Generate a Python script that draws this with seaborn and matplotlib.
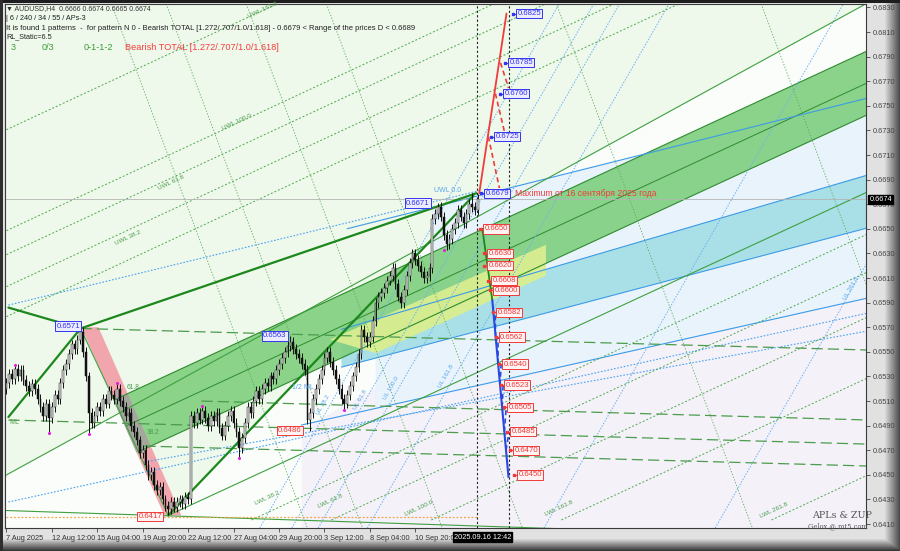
import matplotlib
matplotlib.use("Agg")
import matplotlib.pyplot as plt
import seaborn as sns
import numpy as np
import pandas as pd
from matplotlib.patches import Polygon

# ---------------- data (x = H4 bar index, y = price) ----------------
closes = [
    0.6525, 0.6532, 0.6528, 0.6536, 0.6530, 0.6535, 0.6527, 0.6522, 0.6518, 0.6524,
    0.6520, 0.6512, 0.6505, 0.6498, 0.6508, 0.6496, 0.6505, 0.6515, 0.6512, 0.6525,
    0.6535, 0.6540, 0.6548, 0.6556, 0.6552, 0.6560, 0.6566, 0.6550, 0.6530, 0.6500,
    0.6492, 0.6498, 0.6505, 0.6502, 0.6512, 0.6508, 0.6518, 0.6515, 0.6512, 0.6520,
    0.6510, 0.6505, 0.6498, 0.6500, 0.6490, 0.6485, 0.6478, 0.6468, 0.6470, 0.6458,
    0.6450, 0.6452, 0.6442, 0.6438, 0.6440, 0.6430, 0.6425, 0.6422, 0.6428, 0.6424,
    0.6428, 0.6430, 0.6426, 0.6432, 0.6430, 0.6498, 0.6492, 0.6500, 0.6495, 0.6502,
    0.6496, 0.6490, 0.6498, 0.6494, 0.6500, 0.6488, 0.6482, 0.6490, 0.6498, 0.6502,
    0.6492, 0.6485, 0.6472, 0.6480, 0.6492, 0.6505, 0.6500, 0.6510, 0.6518, 0.6512,
    0.6520, 0.6525, 0.6522, 0.6530, 0.6528, 0.6535, 0.6540, 0.6545, 0.6550, 0.6555,
    0.6558, 0.6552, 0.6548, 0.6545, 0.6540, 0.6535, 0.6495, 0.6500, 0.6512, 0.6520,
    0.6528, 0.6535, 0.6545, 0.6550, 0.6542, 0.6535, 0.6528, 0.6520, 0.6512, 0.6508,
    0.6515, 0.6522, 0.6530, 0.6538, 0.6548, 0.6568, 0.6562, 0.6558, 0.6562, 0.6575,
    0.6590, 0.6595, 0.6598, 0.6602, 0.6608, 0.6612, 0.6618, 0.6605, 0.6595, 0.6590,
    0.6600, 0.6612, 0.6622, 0.6630, 0.6625, 0.6620, 0.6615, 0.6610, 0.6612, 0.6618,
    0.6658, 0.6662, 0.6668, 0.6660, 0.6645, 0.6638, 0.6642, 0.6650, 0.6655, 0.6665,
    0.6660, 0.6655, 0.6662, 0.6670, 0.6668, 0.6665, 0.6674,
]
first_open = 0.6520
wick = 0.0004
extreme_highs = {3: 0.6539, 26: 0.6571, 39: 0.6525, 69: 0.6506, 100: 0.6563, 152: 0.6671, 164: 0.6679}
extreme_lows = {15: 0.6484, 29: 0.6483, 57: 0.6417, 82: 0.6464, 107: 0.6486, 119: 0.6503, 155: 0.6633}
pivot_dots = [(3, 0.6539), (15, 0.6484), (29, 0.6483), (39, 0.6525), (69, 0.6506),
              (82, 0.6464), (119, 0.6503), (154, 0.6633)]

date_ticks = [0, 16, 32, 48, 64, 80, 96, 112, 128, 144]
date_labels = ["7 Aug 2025", "12 Aug 12:00", "15 Aug 04:00", "19 Aug 20:00", "22 Aug 12:00",
               "27 Aug 04:00", "29 Aug 20:00", "3 Sep 12:00", "8 Sep 04:00", "10 Sep 20:00"]
price_ticks = np.round(np.arange(0.6410, 0.6831, 0.0020), 4)
current_price = 0.6674
now_bar = 166.2

# structure lines (start, end) in (bar, price)
thick_green = [((0.7, 0.6586), (26.1, 0.6569)), ((0.7, 0.6497), (26.1, 0.6569)),
               ((26.1, 0.6569), (165.5, 0.6679)), ((57.0, 0.6417), (164.5, 0.6677))]
thin_green = [((-2, 0.64474), (303.2, 0.68336)), ((26.1, 0.6569), (57.0, 0.6417)),
              ((57.0, 0.6417), (303.2, 0.6680)), ((0, 0.6421), (303.2, 0.6398))]
dashed_green = [((26.1, 0.6569), (303.2, 0.65515)), ((0.7, 0.64946), (303.2, 0.64750)),
                ((68.7, 0.65100), (303.2, 0.64946)), ((48.6, 0.64734), (303.2, 0.64572))]
lwl_lines = [((86.3, 0.64133), (303.2, 0.66458)), ((114.4, 0.64133), (303.2, 0.66149)),
             ((149.6, 0.64133), (303.2, 0.65783)), ((195.4, 0.64133), (303.2, 0.65287)),
             ((269.4, 0.64133), (303.2, 0.64498))]
uwl_lines = [((0, 0.66290), (189.8, 0.68328)), ((0, 0.66030), (214.0, 0.68328)),
             ((0, 0.65786), (236.7, 0.68328)), ((0, 0.66485), (171.5, 0.68328)),
             ((0, 0.67306), (95.1, 0.68328))]
perp_green = [((37.0, 0.68328), (106.0, 0.64068)), ((56.3, 0.68328), (125.4, 0.64068)),
              ((84.5, 0.68328), (153.5, 0.64068)), ((112.7, 0.68328), (181.7, 0.64068)),
              ((193.7, 0.68328), (262.7, 0.64068)), ((265.8, 0.68328), (334.9, 0.64068))]
blue_solid = [((120, 0.66501), (303.2, 0.67563)), ((103.9, 0.64905), (303.2, 0.65937)),
              ((118, 0.65683), (310, 0.66983)), ((118, 0.65376), (310, 0.66549))]
blue_dotted = [((0.7, 0.65880), (167.3, 0.66815)), ((0.7, 0.64279), (303.2, 0.65815)),
               ((48.6, 0.64604), (303.2, 0.65669))]
blue_fan = [((89.2, 0.64068), (194.6, 0.68328)), ((100.5, 0.64068), (206.8, 0.68328)),
            ((109.8, 0.64068), (215.9, 0.68328)), ((127.1, 0.64068), (233.3, 0.68328)),
            ((189.3, 0.64068), (294.7, 0.68328)), ((249.6, 0.64068), (355.2, 0.68328))]

green_band_top = [(38.0, 0.6511), (310, 0.6802)]
green_band_bot = [(46.7, 0.6469), (310, 0.6750)]
pink_band = [(26.4, 0.6570), (32.4, 0.6570), (61.6, 0.6417), (55.6, 0.6417)]
pink_green_overlap = [(37.7, 0.65107), (42.7, 0.65160), (50.8, 0.64736), (45.8, 0.64681)]
cyan_band = [(118, 0.65683), (310, 0.66983), (310, 0.66549), (118, 0.65376)]
pale_blue = [(150, 0.66675), (310, 0.67602), (310, 0.66983), (150, 0.65899)]
pale_blue2 = [(130, 0.65040), (310, 0.65971), (310, 0.66549), (130, 0.65449)]
yellow_zone = [(114, 0.6560), (190, 0.6637), (190, 0.6612), (130, 0.6549)]
lavender = [(104, 0.6400), (104, 0.6487), (167, 0.6568), (310, 0.6655), (310, 0.6400)]
white_zone = [(-2, 0.64474), (303.2, 0.68336), (310, 0.6840), (310, 0.6400), (-2, 0.6400)]
fork_zone = [(26.1, 0.6569), (57.0, 0.6417), (164.5, 0.6677), (165.5, 0.6679)]

# projections
up_levels = [0.6679, 0.6725, 0.6760, 0.6785, 0.6825]
up_line_bars = [166.5, 169.7, 172.2, 174.0, 176.1]
up_box_bars = [168.7, 172.2, 175.4, 177.1, 179.9]
up_dash = [((174.0, 0.6785), (176.8, 0.67645)), ((172.2, 0.6760), (175.4, 0.67287)),
           ((169.7, 0.6725), (173.6, 0.66832))]
down_levels = [0.6650, 0.6630, 0.6620, 0.6608, 0.6600, 0.6582, 0.6562, 0.6540,
               0.6523, 0.6505, 0.6485, 0.6470, 0.6450]
down_box_bars = [168.3, 169.7, 169.7, 171.1, 171.8, 172.9, 173.9, 175.0, 175.7,
                 176.8, 177.8, 178.9, 180.3]
down_green = [(167.6, 0.6650), (171.1, 0.65921)]
down_blue = [(171.1, 0.65921), (176.8, 0.64482)]
vlines_bars = [165.8, 177.1]

# ---------------- figure ----------------
sns.set_theme(style="white")
plt.rcParams['font.family'] = ['Liberation Sans', 'DejaVu Sans']

W, H = 900, 551
fig = plt.figure(figsize=(9.0, 5.51), dpi=100)

bg = fig.add_axes([0, 0, 1, 1])
img = np.full((H, W), 0.88)
img[:, 884:] = np.linspace(0.88, 0.30, W - 884)[None, :]
img[538:, :] = np.minimum(img[538:, :], np.linspace(0.88, 0.22, H - 538)[:, None])
img[:3, :] = 0.12
img[:, :3] = 0.18
bg.imshow(img, cmap='gray', vmin=0, vmax=1, aspect='auto', interpolation='nearest')
bg.axis('off')

ax = fig.add_axes([5 / W, 23 / H, 861 / W, 524 / H])
ax.set_facecolor('#eef8eb')
ax.set_xlim(-0.5, 302.7)
ax.set_ylim(0.64068, 0.68328)


def seg(p, q, **kw):
    ax.plot([p[0], q[0]], [p[1], q[1]], **kw)


def poly(pts, **kw):
    ax.add_patch(Polygon(pts, closed=True, **kw))


# background zones
poly(white_zone, fc='#fbfdfb', ec='none', zorder=0.2)
poly(fork_zone, fc='#eef8eb', ec='none', zorder=0.3)
poly(lavender, fc='#f4f1f9', ec='none', zorder=0.4)
poly(pale_blue2, fc='#e9f3fb', ec='none', zorder=0.5)
poly(pale_blue, fc='#e8f3fb', ec='none', zorder=0.5)

gb = [green_band_top[0], green_band_top[1], green_band_bot[1], green_band_bot[0]]
poly(cyan_band, fc='#a9dfe6', ec='none', zorder=0.8)
poly(gb, fc='#7fcf7f', ec='none', alpha=0.9, zorder=1)
poly(yellow_zone, fc='#d9ee90', ec='none', alpha=0.95, zorder=1.1)
poly(pink_band, fc='#f2a2ab', ec='none', alpha=0.95, zorder=1.2)
poly(pink_green_overlap, fc='#a3a79c', ec='none', zorder=1.3)

seg(*green_band_top, color='#2e8b2e', lw=0.8, zorder=2)
seg(*green_band_bot, color='#2e8b2e', lw=0.8, zorder=2)
mid = [((green_band_top[0][0] + green_band_bot[0][0]) / 2, (green_band_top[0][1] + green_band_bot[0][1]) / 2),
       (310, (green_band_top[1][1] + green_band_bot[1][1]) / 2)]
seg(*mid, color='#2e8b2e', lw=0.7, zorder=2)

for p, q in blue_solid:
    seg(p, q, color='#3c9be6', lw=0.8, zorder=2)
for p, q in blue_dotted:
    seg(p, q, color='#4aa3f0', lw=0.8, ls=(0, (1.5, 1.5)), zorder=2)
for p, q in blue_fan:
    seg(p, q, color='#6ab2f2', lw=0.7, ls=(0, (1.5, 1.5)), zorder=2)
for p, q in lwl_lines + uwl_lines:
    seg(p, q, color='#4ea94e', lw=0.7, ls=(0, (2, 2)), zorder=2)
for p, q in perp_green:
    seg(p, q, color='#5aa95a', lw=0.6, ls=(0, (1.5, 2)), zorder=2)
for p, q in dashed_green:
    seg(p, q, color='#4c9c4c', lw=0.9, ls=(0, (9, 4)), zorder=2.2)
for p, q in thin_green:
    seg(p, q, color='#3f9f3f', lw=0.8, zorder=2.3)
for p, q in thick_green:
    seg(p, q, color='#1c881c', lw=1.6, zorder=3)

ax.plot([0, 166], [0.6416, 0.6416], color='#f3a446', lw=0.9, ls=(0, (1.5, 1.5)), zorder=2.4)
ax.axhline(current_price, color='#b4b4b4', lw=0.6, zorder=2.4)
for vb in vlines_bars:
    ax.axvline(vb, color='#222222', lw=0.8, ls=(0, (2, 2)), zorder=3)

# candles
n = len(closes)
idx = np.arange(n)
opens = [first_open] + closes[:-1]
highs = [extreme_highs.get(i, max(o, c) + wick) for i, (o, c) in enumerate(zip(opens, closes))]
lows = [extreme_lows.get(i, min(o, c) - wick) for i, (o, c) in enumerate(zip(opens, closes))]
df = pd.DataFrame({'bar': idx, 'open': opens, 'close': closes, 'high': highs, 'low': lows})
df['up'] = df['close'] >= df['open']
ax.vlines(df['bar'], df['low'], df['high'], color='#111111', lw=0.7, zorder=4)
body = (df['close'] - df['open']).abs().clip(lower=0.00006)
bottom = df[['open', 'close']].min(axis=1)
ax.bar(df['bar'][df['up']], body[df['up']], bottom=bottom[df['up']], width=0.62,
       color='#d9d9d9', edgecolor='#222222', linewidth=0.35, zorder=4.2)
ax.bar(df['bar'][~df['up']], body[~df['up']], bottom=bottom[~df['up']], width=0.62,
       color='#111111', edgecolor='#111111', linewidth=0.35, zorder=4.2)

pdots = pd.DataFrame(pivot_dots, columns=['bar', 'price'])
sns.scatterplot(data=pdots, x='bar', y='price', color='#e020e0', s=5, linewidth=0, ax=ax, zorder=5)

# projections
ax.plot([up_line_bars[0], up_line_bars[-1]], [up_levels[0], up_levels[-1]], color='#f03c3c', lw=1.3, zorder=5)
for p, q in up_dash:
    seg(p, q, color='#f03c3c', lw=1.2, ls=(0, (3, 2)), zorder=5)
seg(*down_green, color='#1c881c', lw=1.3, zorder=5)
seg(*down_blue, color='#2848e0', lw=1.5, zorder=5)
(b0, p0), (b1, p1) = down_blue
for k in range(6, len(down_levels) - 1):
    lvl = down_levels[k]
    lb = b0 + (b1 - b0) * (p0 - lvl) / (p0 - p1)
    seg((lb, lvl), (down_box_bars[k - 1] - 0.8, down_levels[k - 1]), color='#2848e0', lw=1.2,
        ls=(0, (3, 2)), zorder=5)


def pbox(x, y, txt, kind, ha='left'):
    if kind == 'red':
        fc, ec, tc = '#fff3f3', '#f03a3a', '#f03a3a'
    else:
        fc, ec, tc = '#ececff', '#3434f0', '#3434f0'
    ax.text(x, y, txt, fontsize=5.6, color=tc, ha=ha, va='center', zorder=8,
            bbox=dict(boxstyle='square,pad=0.15', fc=fc, ec=ec, lw=0.7))
    if ha == 'left':
        ax.plot([x - 1.6, x - 0.3], [y, y], color=ec, lw=0.8, zorder=7)
        ax.plot(x - 1.5, y, marker='s', ms=1.6, color=ec, zorder=7)


for lvl, bb in zip(up_levels, up_box_bars):
    pbox(bb, lvl, f"{lvl:.4f}", 'blue')
for lvl, bb in zip(down_levels, down_box_bars):
    pbox(bb, lvl, f"{lvl:.4f}", 'red')
pbox(26.0, 0.6571, "0.6571", 'blue', ha='right')
pbox(98.6, 0.6563, "0.6563", 'blue', ha='right')
pbox(149.0, 0.6671, "0.6671", 'blue', ha='right')
pbox(103.9, 0.6486, "0.6486", 'red', ha='right')
pbox(54.9, 0.6416, "0.6417", 'red', ha='right')

ax.text(179.2, 0.6679, "Maximum от 16 сентября 2025 года", color='#f03c3c', fontsize=6.2,
        ha='left', va='center', zorder=8)

# small line labels
small = dict(fontsize=4.6, zorder=6, rotation_mode='anchor')
for txt, x, y in [("LWL 38.2", 88, 0.64255), ("LWL 61.8", 110.2, 0.6423), ("LWL 100.0", 140.8, 0.64165),
                  ("LWL 161.8", 190.1, 0.64165), ("LWL 261.8", 265.8, 0.64149),
                  ("UWL 161.8", 85.6, 0.68214), ("UWL 100.0", 76.4, 0.67303),
                  ("UWL 61.8", 53.9, 0.66815), ("UWL 38.2", 38.7, 0.66368)]:
    ax.text(x, y, txt, color='#4a9e4a', rotation=25, **small)
for txt, x, y in [("UL 38.2", 110, 0.64986), ("UL 61.8", 123, 0.6503), ("UL 100.0", 133.8, 0.65108),
                  ("UL 161.8", 153, 0.65206), ("UL 261.8", 295.8, 0.65921)]:
    ax.text(x, y, txt, color='#5aa6ee', rotation=60, **small)
ax.text(1.0, 0.64929, "ML", color='#4a9e4a', fontsize=5, va='center', zorder=6)
ax.text(100.4, 0.65214, "1/2 ML", color='#5aa6ee', fontsize=5, va='center', zorder=6)
ax.text(150.7, 0.66815, "UWL 0.0", color='#5aa6ee', fontsize=5, va='center', zorder=6)
ax.text(42.3, 0.65214, "61.8", color='#4a9e4a', fontsize=4.8, va='center', zorder=6)
ax.text(49.3, 0.64848, "38.2", color='#4a9e4a', fontsize=4.8, va='center', zorder=6)

# axes styling
for s in ax.spines.values():
    s.set_color('#3a3a3a')
    s.set_linewidth(0.8)
ax.yaxis.tick_right()
ax.set_yticks(price_ticks)
ax.set_yticklabels([f"{v:.4f}" for v in price_ticks])
ax.set_xticks(date_ticks)
ax.set_xticklabels(date_labels, ha='left')
ax.tick_params(axis='y', which='both', right=True, length=3, width=0.6, color='#444444',
               labelsize=5.3, labelcolor='#444444', pad=2)
ax.tick_params(axis='x', which='both', bottom=True, length=3, width=0.6, color='#444444',
               labelsize=5.3, labelcolor='#333333', pad=2)
ax.set_xlabel("")
ax.set_ylabel("")
ax.grid(False)

ax.annotate(f"{current_price:.4f}", xy=(1, current_price), xycoords=('axes fraction', 'data'),
            xytext=(2.5, 0), textcoords='offset points', ha='left', va='center', fontsize=5.3,
            color='white', bbox=dict(boxstyle='square,pad=0.15', fc='black', ec='black'), zorder=10,
            annotation_clip=False)
ax.annotate("2025.09.16 12:42", xy=(now_bar + 1.5, 0), xycoords=('data', 'axes fraction'),
            xytext=(0, -6.5), textcoords='offset points', ha='center', va='center', fontsize=5.3,
            color='white', bbox=dict(boxstyle='square,pad=0.15', fc='black', ec='black'), zorder=10,
            annotation_clip=False)

# header texts
def ftext(x, y, s, **kw):
    fig.text(x / W, 1 - y / H, s, va='center', ha='left', **kw)


ftext(6, 9, "▼ AUDUSD,H4  0.6666 0.6674 0.6665 0.6674", fontsize=5.0, color='#333333')
ftext(6, 19, "| 6 / 240 / 34 / 55 / APs-3", fontsize=5.2, color='#222222')
ftext(6, 28.5, "It is found 1 patterns  -  for pattern N 0 - Bearish TOTAL [1.272/.707/1.0/1.618] - "
               "0.6679 < Range of the prices D < 0.6689", fontsize=5.5, color='#222222')
ftext(6, 37, "RL_Static=6.5", fontsize=5.2, color='#222222')
ftext(11, 47, "3", fontsize=6.6, color='#3a9e3a')
ftext(42, 47, "0/3", fontsize=6.6, color='#3a9e3a')
ftext(84, 47, "0-1-1-2", fontsize=6.6, color='#3a9e3a')
ftext(125, 47, "Bearish TOTAL [1.272/.707/1.0/1.618]", fontsize=6.6, color='#f53c3c')

ftext(812, 515, "APLs & ZUP", fontsize=6.8, color='#555555', family='DejaVu Serif')
ftext(808, 526, "Gelox @ mt5.com", fontsize=4.8, color='#555555', family='DejaVu Serif')

fig.savefig("out.png", dpi=100)
